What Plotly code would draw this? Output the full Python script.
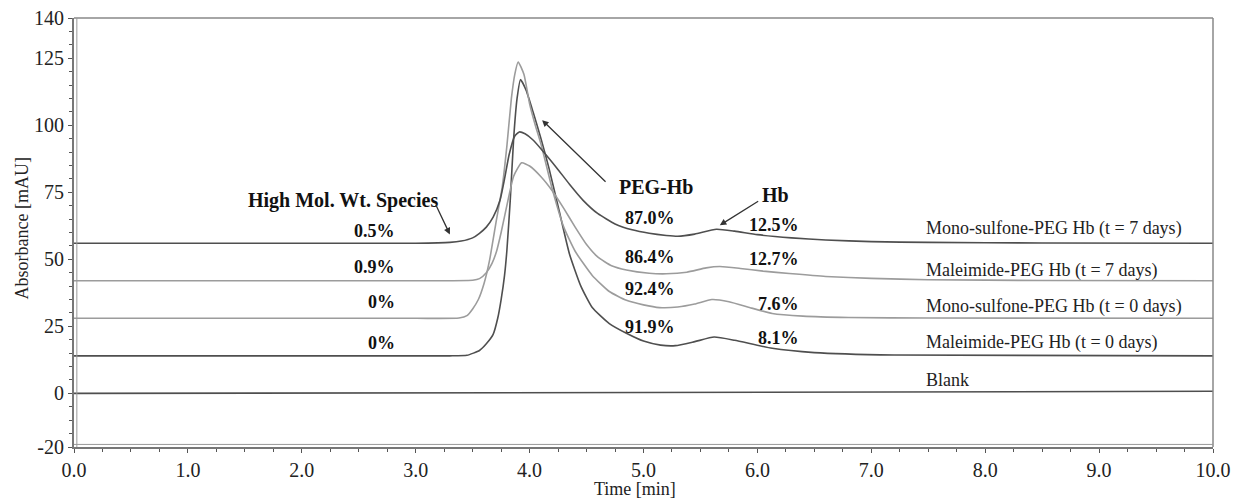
import plotly.graph_objects as go

# ---------------- data ----------------
t_ms7 = [0, 1, 2, 3, 3.3, 3.4, 3.5, 3.56, 3.62, 3.68, 3.74, 3.78, 3.82, 3.87, 3.91, 3.96, 4.03, 4.11,
         4.24, 4.35, 4.47, 4.6, 4.75, 4.9, 5.05, 5.2, 5.3, 5.45, 5.64, 5.8, 6.0, 6.3, 6.6, 7.0, 7.5, 8.5, 10]
v_ms7 = [56, 56, 56, 56, 56.3, 56.8, 58, 59.7, 62, 65.7, 72, 80, 89, 96, 97.5, 96.8, 94.5, 90.7,
         84, 78, 72, 67, 63.2, 61, 59.7, 58.9, 58.6, 59.4, 61.2, 60.5, 59.2, 58, 57.2, 56.6, 56.3, 56.1, 56]

t_ml7 = [0, 3, 3.5, 3.56, 3.62, 3.67, 3.71, 3.75, 3.81, 3.86, 3.93, 4.0, 4.1, 4.2, 4.3, 4.4, 4.5,
         4.6, 4.72, 4.85, 5.05, 5.2, 5.38, 5.55, 5.67, 5.85, 6.05, 6.28, 6.6, 7.0, 7.5, 8.5, 10]
v_ml7 = [42, 42, 42.2, 42.8, 45, 48.5, 53, 60, 72, 81, 86, 84.8, 80.8, 75.5, 69, 62, 55.5,
         50.8, 47.6, 46, 44.8, 44.6, 45.2, 46.8, 47.3, 46.6, 45.6, 44.7, 43.6, 42.9, 42.4, 42.1, 42]

t_ms0 = [0, 3, 3.38, 3.45, 3.5, 3.55, 3.6, 3.65, 3.71, 3.76, 3.8, 3.84, 3.87, 3.9, 3.95, 4.0, 4.05, 4.1,
         4.2, 4.3, 4.4, 4.55, 4.7, 4.85, 5.0, 5.14, 5.3, 5.45, 5.6, 5.75, 5.95, 6.13, 6.4, 6.8, 7.5, 10]
v_ms0 = [28, 28, 28.1, 29, 31.5, 35, 41, 50, 65, 77, 92, 110, 119, 123.6, 119, 108, 100, 93,
         76, 62, 53, 44, 38, 34.7, 33, 32, 32.2, 33.3, 35, 34.2, 31.8, 29.8, 28.8, 28.3, 28.1, 28]

t_ml0 = [0, 3, 3.3, 3.45, 3.56, 3.62, 3.68, 3.72, 3.75, 3.78, 3.8, 3.83, 3.86, 3.89, 3.92, 3.97, 4.03,
         4.1, 4.17, 4.26, 4.35, 4.45, 4.55, 4.7, 4.85, 5.0, 5.15, 5.28, 5.45, 5.62, 5.8, 6.13, 6.5, 7.2, 10]
v_ml0 = [14, 14, 14, 14.2, 16, 18.5, 22, 28, 35, 44, 53, 72, 95, 110, 117, 113, 105,
         95, 84, 68, 52, 40, 32, 26, 22.4, 19.5, 18, 17.8, 19.3, 21, 19.8, 16.8, 15.2, 14.3, 14]

t_blank = [0, 5, 10]
v_blank = [0, 0.3, 0.8]

trace_names = ["Mono-sulfone-PEG Hb (t = 7 days)", "Maleimide-PEG Hb (t = 7 days)",
               "Mono-sulfone-PEG Hb (t = 0 days)", "Maleimide-PEG Hb (t = 0 days)", "Blank"]
name_y = [61.4, 45.9, 32.5, 18.8, 4.9]

hmw_pct = ["0.5%", "0.9%", "0%", "0%"]
hmw_y = [60.6, 47, 34, 18.8]
peg_pct = ["87.0%", "86.4%", "92.4%", "91.9%"]
peg_y = [65.3, 50.9, 39, 24.7]
hb_pct = ["12.5%", "12.7%", "7.6%", "8.1%"]
hb_y = [62.7, 50, 33.2, 20.8]

y_ticks = [-20, 0, 25, 50, 75, 100, 125, 140]
y_tick_text = ["-20", "0", "25", "50", "75", "100", "125", "140"]
x_ticks = [0, 1, 2, 3, 4, 5, 6, 7, 8, 9, 10]

# ---------------- styles ----------------
DARK = "#4f4f4f"
LIGHT = "#9c9c9c"
FONT = "Liberation Serif"

fig = go.Figure()
series = [(t_blank, v_blank, DARK), (t_ml0, v_ml0, DARK), (t_ms0, v_ms0, LIGHT),
          (t_ml7, v_ml7, LIGHT), (t_ms7, v_ms7, DARK)]
for tx, vy, col in series:
    fig.add_trace(go.Scatter(x=tx, y=vy, mode="lines",
                             line=dict(color=col, width=1.6, shape="spline", smoothing=0.5),
                             showlegend=False, hoverinfo="skip"))

ann = []
for name, yy in zip(trace_names, name_y):
    ann.append(dict(x=7.46, y=yy, text=name, showarrow=False, xanchor="left", yanchor="middle",
                    font=dict(family=FONT, size=18, color="#222")))
for txt, yy in zip(hmw_pct, hmw_y):
    ann.append(dict(x=2.835, y=yy, text="<b>%s</b>" % txt, showarrow=False, xanchor="right",
                    yanchor="middle", font=dict(family=FONT, size=18, color="#111")))
for txt, yy in zip(peg_pct, peg_y):
    ann.append(dict(x=4.82, y=yy, text="<b>%s</b>" % txt, showarrow=False, xanchor="left",
                    yanchor="middle", font=dict(family=FONT, size=18, color="#111")))
for txt, yy in zip(hb_pct, hb_y):
    ann.append(dict(x=6.38, y=yy, text="<b>%s</b>" % txt, showarrow=False, xanchor="right",
                    yanchor="middle", font=dict(family=FONT, size=18, color="#111")))

big = dict(family=FONT, size=20, color="#111")
ann.append(dict(x=2.36, y=72, text="<b>High Mol. Wt. Species</b>", showarrow=False, font=big))
ann.append(dict(x=5.11, y=76.9, text="<b>PEG-Hb</b>", showarrow=False, font=big))
ann.append(dict(x=6.16, y=73.9, text="<b>Hb</b>", showarrow=False, font=big))

arrow = dict(showarrow=True, arrowhead=2, arrowsize=1, arrowwidth=1.3, arrowcolor="#333",
             axref="x", ayref="y", text="")
ann.append(dict(arrow, x=3.30, y=59.3, ax=3.17, ay=70.9))
ann.append(dict(arrow, x=4.11, y=101.9, ax=4.68, ay=78.4))
ann.append(dict(arrow, x=5.67, y=62.7, ax=6.02, ay=72))

# axis titles as annotations for exact placement
ann.append(dict(xref="paper", yref="paper", x=-0.0455, y=0.51, text="Absorbance [mAU]",
                xanchor="center", yanchor="middle",
                textangle=-90, showarrow=False, font=dict(family=FONT, size=18, color="#222")))
ann.append(dict(xref="paper", yref="paper", x=0.4925, y=-0.098, text="Time [min]",
                xanchor="center", yanchor="middle",
                showarrow=False, font=dict(family=FONT, size=18, color="#222")))

fig.update_layout(
    width=1236, height=499,
    margin=dict(l=74, r=23, t=18, b=52),
    plot_bgcolor="white", paper_bgcolor="white",
    font=dict(family=FONT, size=20, color="#222"),
    annotations=ann,
    shapes=[
        dict(type="line", xref="paper", yref="paper", x0=0, x1=1, y0=1, y1=1,
             line=dict(color="#888", width=1.5)),
        dict(type="line", xref="paper", yref="paper", x0=1, x1=1, y0=0, y1=1,
             line=dict(color="#888", width=1.5)),
        dict(type="line", xref="paper", yref="paper", x0=0.0025, x1=0.0025, y0=0, y1=1,
             line=dict(color="#999", width=1)),
        dict(type="line", xref="paper", yref="paper", x0=0, x1=1, y0=0.006, y1=0.006,
             line=dict(color="#999", width=1)),
    ],
    xaxis=dict(range=[0, 10], tickvals=x_ticks, tickformat=".1f", showgrid=False, zeroline=False,
               automargin=False,
               showline=True, linecolor="#777", linewidth=2, ticks="outside", ticklen=4,
               tickcolor="#555", tickwidth=1.2,
               minor=dict(dtick=0.25, ticks="outside", ticklen=3, tickcolor="#555"),
               tickfont=dict(family=FONT, size=20, color="#222")),
    yaxis=dict(range=[-20, 140], tickvals=y_ticks, ticktext=y_tick_text, showgrid=False,
               zeroline=False, automargin=False,
               showline=True, linecolor="#777", linewidth=2, ticks="outside", ticklen=4,
               tickcolor="#555", tickwidth=1.2,
               minor=dict(dtick=5, ticks="outside", ticklen=3, tickcolor="#555"),
               tickfont=dict(family=FONT, size=20, color="#222")),
)

fig.write_html("out.html")
